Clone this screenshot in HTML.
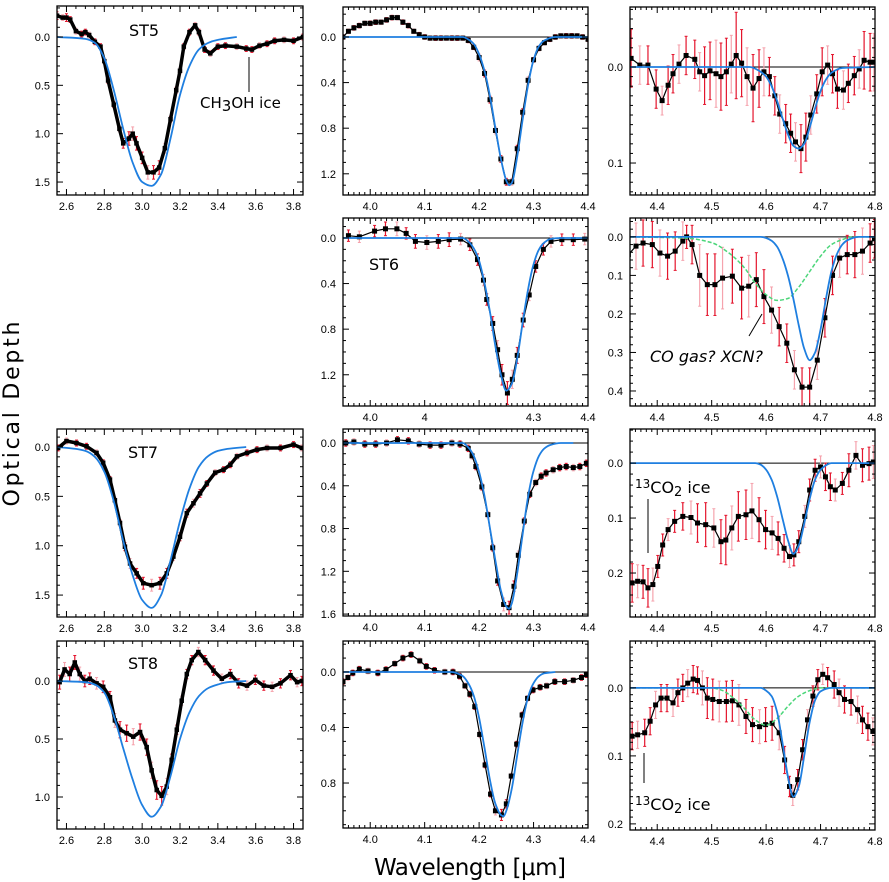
<!DOCTYPE html>
<html><head><meta charset="utf-8"><title>Optical depth spectra</title>
<style>
html,body{margin:0;padding:0;background:#fff;}
svg{display:block;}
text{font-family:"Liberation Sans",sans-serif;}
</style></head>
<body>
<svg id="fig" width="889" height="882" viewBox="0 0 889 882" xmlns="http://www.w3.org/2000/svg">
<rect x="0" y="0" width="889" height="882" fill="#fff"/>
<text x="13" y="414" transform="rotate(-90 13 414)" text-anchor="middle" dominant-baseline="middle" style="font-family:'DejaVu Sans',sans-serif;font-size:22px" textLength="185">Optical Depth</text>
<text x="470" y="875" text-anchor="middle" style="font-family:'DejaVu Sans',sans-serif;font-size:23px" textLength="192">Wavelength [μm]</text>
</svg>
<script>
// ===== Data arrays =====
// Panel A: ST5 3um
const aWave=[2.55,2.58,2.6,2.62,2.65,2.68,2.7,2.72,2.75,2.78,2.8,2.82,2.85,2.88,2.9,2.93,2.95,2.97,3.0,3.03,3.06,3.09,3.12,3.15,3.18,3.2,3.22,3.25,3.28,3.3,3.33,3.36,3.4,3.44,3.5,3.55,3.58,3.62,3.66,3.7,3.75,3.8,3.85];
const aTau=[-0.22,-0.2,-0.2,-0.18,-0.06,-0.03,-0.05,-0.02,0.05,0.1,0.25,0.45,0.7,0.95,1.1,1.05,1.0,1.1,1.25,1.4,1.4,1.35,1.15,0.85,0.55,0.35,0.1,-0.05,-0.12,-0.05,0.13,0.17,0.1,0.09,0.1,0.12,0.13,0.09,0.07,0.04,0.03,0.04,0.0];
const aErr=[0.04,0.03,0.04,0.03,0.03,0.03,0.03,0.03,0.03,0.03,0.03,0.03,0.03,0.03,0.05,0.07,0.07,0.07,0.06,0.07,0.07,0.07,0.05,0.03,0.03,0.03,0.03,0.03,0.03,0.03,0.03,0.03,0.03,0.03,0.03,0.03,0.03,0.03,0.03,0.03,0.03,0.03,0.03];
const aModWave=[2.55,2.7,2.75,2.8,2.85,2.9,2.95,3.0,3.05,3.1,3.15,3.2,3.25,3.3,3.35,3.4,3.5];
const aModTau=[0,0.02,0.06,0.22,0.55,0.95,1.3,1.5,1.54,1.42,1.05,0.6,0.3,0.13,0.06,0.03,0.0];
// Panel B: ST5 CO2
const bWave=[3.95,3.96,3.97,3.98,3.99,4.0,4.01,4.02,4.03,4.04,4.05,4.06,4.07,4.08,4.09,4.1,4.11,4.12,4.13,4.14,4.15,4.16,4.17,4.18,4.19,4.2,4.21,4.22,4.23,4.24,4.25,4.26,4.27,4.28,4.29,4.3,4.31,4.32,4.33,4.34,4.35,4.36,4.37,4.38,4.39,4.4];
const bTau=[0.0,-0.05,-0.08,-0.1,-0.12,-0.12,-0.13,-0.13,-0.15,-0.17,-0.17,-0.13,-0.1,-0.05,-0.02,0.0,0.01,0.01,0.01,0.01,0.01,0.01,0.01,0.03,0.09,0.18,0.32,0.55,0.82,1.07,1.27,1.27,0.98,0.66,0.38,0.2,0.1,0.05,0.02,0.0,-0.01,-0.01,-0.01,-0.01,0.0,0.02];
const bErr=[0.02,0.02,0.02,0.02,0.02,0.02,0.02,0.02,0.02,0.02,0.02,0.02,0.02,0.02,0.02,0.02,0.02,0.02,0.02,0.02,0.02,0.02,0.02,0.02,0.02,0.03,0.03,0.03,0.03,0.03,0.03,0.03,0.03,0.03,0.03,0.02,0.02,0.02,0.02,0.02,0.02,0.02,0.02,0.02,0.02,0.02];
const bModWave=[3.95,4.17,4.18,4.19,4.2,4.21,4.22,4.23,4.24,4.25,4.255,4.26,4.27,4.28,4.29,4.3,4.31,4.32,4.34,4.4];
const bModTau=[0,0,0.02,0.06,0.15,0.3,0.52,0.8,1.07,1.26,1.3,1.28,1.05,0.72,0.42,0.2,0.08,0.03,0.0,0.0];
// Panel C: ST5 CO
const cWave=[4.352,4.368,4.383,4.398,4.409,4.42,4.429,4.44,4.453,4.469,4.478,4.487,4.497,4.508,4.517,4.527,4.536,4.545,4.555,4.565,4.576,4.587,4.596,4.606,4.616,4.625,4.636,4.645,4.654,4.664,4.673,4.682,4.693,4.703,4.713,4.722,4.731,4.742,4.751,4.762,4.771,4.78,4.791,4.798];
const cTau=[-0.009,-0.002,-0.002,0.023,0.035,0.019,0.007,-0.003,-0.012,-0.008,0.005,0.009,0.004,0.007,0.01,0.005,-0.003,-0.012,-0.004,0.01,0.022,0.012,0.005,0.01,0.03,0.049,0.059,0.069,0.078,0.085,0.073,0.05,0.028,0.005,-0.002,0.007,0.023,0.024,0.017,0.009,0.002,-0.007,-0.005,-0.005];
const cErr=[0.03,0.02,0.02,0.02,0.015,0.02,0.02,0.02,0.02,0.02,0.02,0.03,0.03,0.035,0.035,0.035,0.03,0.045,0.035,0.03,0.035,0.03,0.025,0.02,0.02,0.02,0.02,0.02,0.02,0.025,0.025,0.02,0.02,0.025,0.02,0.02,0.02,0.02,0.02,0.02,0.02,0.03,0.03,0.03];
const cModWave=[4.35,4.57,4.59,4.6,4.61,4.62,4.63,4.64,4.65,4.66,4.67,4.68,4.69,4.7,4.71,4.72,4.74,4.8];
const cModTau=[0,0,0.005,0.01,0.02,0.035,0.053,0.07,0.082,0.085,0.08,0.063,0.043,0.025,0.013,0.006,0.001,0];
// Panel D: ST6 CO2
const dWave=[3.96,3.98,4.008,4.028,4.049,4.066,4.083,4.104,4.125,4.145,4.166,4.183,4.197,4.208,4.214,4.225,4.234,4.242,4.252,4.261,4.27,4.281,4.292,4.304,4.318,4.332,4.352,4.373,4.394];
const dTau=[-0.02,-0.01,-0.06,-0.08,-0.08,-0.04,0.03,0.04,0.03,0.015,0.01,0.06,0.19,0.37,0.54,0.75,0.98,1.2,1.36,1.24,1.03,0.72,0.5,0.25,0.1,0.03,0.015,0.015,0.01];
const dErr=[0.05,0.05,0.05,0.06,0.06,0.05,0.06,0.06,0.06,0.06,0.05,0.05,0.05,0.05,0.05,0.06,0.08,0.09,0.1,0.08,0.07,0.06,0.05,0.05,0.05,0.05,0.05,0.05,0.05];
const dModWave=[3.95,4.17,4.18,4.19,4.2,4.21,4.22,4.23,4.24,4.25,4.26,4.27,4.28,4.29,4.3,4.31,4.32,4.33,4.35,4.4];
const dModTau=[0,0,0.03,0.09,0.2,0.4,0.65,0.95,1.2,1.34,1.28,1.06,0.74,0.45,0.23,0.1,0.04,0.01,0,0];
// Panel E: ST6 CO
const eWave=[4.347,4.361,4.374,4.391,4.405,4.419,4.433,4.447,4.454,4.464,4.478,4.492,4.506,4.52,4.538,4.555,4.568,4.582,4.596,4.61,4.624,4.638,4.652,4.666,4.68,4.694,4.708,4.722,4.735,4.749,4.763,4.777,4.791,4.799];
const eTau=[0.046,0.024,0.016,0.02,0.042,0.05,0.037,0.011,0.0,0.02,0.1,0.124,0.124,0.107,0.102,0.133,0.128,0.111,0.155,0.19,0.233,0.276,0.345,0.39,0.39,0.32,0.21,0.1,0.055,0.046,0.046,0.037,0.016,0.005];
const eErr=[0.05,0.06,0.06,0.06,0.06,0.06,0.05,0.05,0.03,0.05,0.08,0.08,0.08,0.08,0.07,0.08,0.08,0.07,0.07,0.06,0.05,0.05,0.05,0.05,0.05,0.05,0.05,0.05,0.05,0.05,0.06,0.06,0.05,0.05];
const eModWave=[4.35,4.59,4.6,4.61,4.62,4.63,4.64,4.65,4.66,4.67,4.68,4.69,4.7,4.71,4.72,4.73,4.74,4.75,4.77,4.8];
const eModTau=[0,0,0.003,0.01,0.025,0.055,0.1,0.16,0.23,0.29,0.32,0.3,0.24,0.16,0.09,0.045,0.02,0.008,0,0];
const eGasWave=[4.35,4.45,4.5,4.53,4.56,4.58,4.6,4.62,4.64,4.66,4.68,4.7,4.72,4.74,4.76,4.8];
const eGasTau=[0,0.003,0.015,0.04,0.08,0.12,0.15,0.165,0.16,0.13,0.09,0.05,0.02,0.007,0,0];
// Panel F: ST7 3um
const fWave=[2.556,2.6,2.653,2.706,2.759,2.794,2.83,2.856,2.883,2.909,2.936,2.971,3.006,3.05,3.094,3.13,3.165,3.2,3.236,3.271,3.306,3.342,3.386,3.43,3.466,3.501,3.554,3.607,3.66,3.731,3.8,3.844];
const fTau=[0.01,-0.06,-0.04,-0.007,0.06,0.16,0.33,0.54,0.77,1.01,1.18,1.28,1.38,1.4,1.38,1.28,1.11,0.91,0.67,0.57,0.47,0.37,0.26,0.23,0.18,0.095,0.06,0.027,0.01,0.01,-0.024,0.01];
const fErr=[0.03,0.03,0.03,0.03,0.03,0.03,0.03,0.03,0.03,0.04,0.05,0.05,0.06,0.06,0.06,0.05,0.04,0.04,0.04,0.04,0.04,0.03,0.03,0.03,0.03,0.03,0.03,0.03,0.03,0.03,0.03,0.03];
const fModWave=[2.55,2.65,2.7,2.75,2.8,2.85,2.9,2.95,3.0,3.05,3.1,3.15,3.2,3.25,3.3,3.35,3.4,3.45,3.55];
const fModTau=[0,0.02,0.04,0.1,0.25,0.55,0.95,1.3,1.55,1.63,1.5,1.15,0.75,0.42,0.2,0.09,0.04,0.02,0];
// Panel G: ST7 CO2
const gWave=[3.955,3.97,3.99,4.01,4.03,4.05,4.07,4.09,4.11,4.13,4.15,4.165,4.18,4.187,4.194,4.205,4.216,4.225,4.234,4.245,4.255,4.264,4.272,4.283,4.293,4.304,4.314,4.323,4.336,4.348,4.36,4.373,4.385,4.397];
const gTau=[0.0,-0.01,0.01,0.01,0.0,-0.03,-0.02,0.01,0.02,0.02,0.0,0.01,0.05,0.12,0.22,0.41,0.67,0.98,1.29,1.51,1.54,1.34,1.05,0.73,0.48,0.37,0.31,0.28,0.25,0.23,0.22,0.23,0.22,0.19];
const gErr=[0.03,0.03,0.03,0.03,0.03,0.03,0.03,0.03,0.03,0.03,0.03,0.03,0.03,0.03,0.03,0.03,0.03,0.03,0.04,0.06,0.06,0.05,0.04,0.03,0.03,0.03,0.03,0.03,0.03,0.03,0.03,0.03,0.03,0.03];
const gModWave=[3.95,4.17,4.18,4.19,4.2,4.21,4.22,4.23,4.24,4.25,4.255,4.26,4.27,4.28,4.29,4.3,4.31,4.32,4.33,4.35,4.373];
const gModTau=[0,0,0.04,0.12,0.27,0.5,0.8,1.1,1.38,1.53,1.55,1.5,1.22,0.85,0.5,0.26,0.12,0.05,0.02,0,0];
// Panel H: ST7 CO
const hWave=[4.354,4.364,4.374,4.383,4.392,4.401,4.41,4.42,4.432,4.447,4.462,4.474,4.489,4.504,4.517,4.526,4.537,4.549,4.563,4.574,4.587,4.599,4.611,4.622,4.633,4.643,4.651,4.66,4.671,4.68,4.69,4.7,4.709,4.718,4.727,4.74,4.752,4.765,4.777,4.789,4.797];
const hTau=[0.218,0.215,0.216,0.227,0.221,0.188,0.149,0.121,0.106,0.097,0.099,0.109,0.112,0.118,0.143,0.14,0.118,0.097,0.094,0.087,0.103,0.121,0.127,0.137,0.155,0.17,0.167,0.143,0.097,0.049,0.013,0.007,0.025,0.043,0.049,0.037,0.013,-0.014,0.004,0.001,-0.002];
const hErr=[0.035,0.03,0.03,0.035,0.03,0.02,0.02,0.02,0.02,0.025,0.03,0.035,0.04,0.035,0.04,0.045,0.04,0.045,0.045,0.05,0.04,0.035,0.03,0.03,0.025,0.02,0.02,0.02,0.02,0.02,0.02,0.02,0.025,0.025,0.02,0.02,0.03,0.025,0.03,0.03,0.03];
const hModWave=[4.35,4.58,4.59,4.6,4.61,4.62,4.63,4.64,4.65,4.66,4.67,4.68,4.69,4.7,4.71,4.72,4.8];
const hModTau=[0,0,0.003,0.012,0.03,0.06,0.1,0.14,0.165,0.15,0.11,0.065,0.03,0.012,0.004,0,0];
// Panel I: ST8 3um
const iWave=[2.564,2.59,2.617,2.644,2.67,2.697,2.723,2.759,2.794,2.83,2.856,2.883,2.918,2.953,2.989,3.024,3.05,3.077,3.103,3.13,3.156,3.183,3.209,3.236,3.262,3.297,3.333,3.377,3.421,3.466,3.51,3.554,3.598,3.643,3.687,3.731,3.784,3.819,3.844];
const iTau=[0.01,-0.1,-0.06,-0.16,-0.06,0.0,-0.02,0.02,0.05,0.14,0.34,0.42,0.45,0.48,0.44,0.57,0.77,0.94,0.99,0.91,0.68,0.42,0.17,-0.06,-0.18,-0.25,-0.18,-0.09,-0.02,-0.06,0.02,0.04,-0.01,0.04,0.05,0.02,-0.05,0.01,0.0];
const iErr=[0.06,0.06,0.06,0.06,0.06,0.05,0.05,0.05,0.05,0.05,0.06,0.07,0.07,0.07,0.07,0.07,0.07,0.08,0.08,0.07,0.05,0.04,0.04,0.04,0.04,0.04,0.04,0.04,0.04,0.04,0.04,0.04,0.04,0.04,0.04,0.04,0.04,0.04,0.04];
const iModWave=[2.55,2.7,2.75,2.8,2.85,2.9,2.95,3.0,3.05,3.1,3.15,3.2,3.25,3.3,3.35,3.4,3.45,3.55];
const iModTau=[0,0.01,0.03,0.1,0.3,0.58,0.85,1.07,1.17,1.08,0.82,0.5,0.27,0.13,0.06,0.03,0.01,0];
// Panel J: ST8 CO2
const jWave=[3.95,3.959,3.968,3.98,3.996,4.014,4.029,4.045,4.06,4.075,4.091,4.103,4.118,4.137,4.152,4.164,4.174,4.183,4.192,4.201,4.211,4.221,4.23,4.241,4.25,4.259,4.269,4.279,4.289,4.299,4.312,4.324,4.339,4.357,4.373,4.388,4.397];
const jTau=[0.07,0.04,0.007,-0.02,-0.007,0.007,-0.017,-0.06,-0.1,-0.125,-0.08,-0.04,-0.012,0.0,0.0,0.03,0.1,0.16,0.25,0.45,0.67,0.88,1.0,1.03,0.95,0.75,0.52,0.31,0.19,0.13,0.11,0.1,0.07,0.07,0.06,0.04,0.02];
const jErr=[0.02,0.02,0.02,0.02,0.02,0.02,0.02,0.02,0.02,0.02,0.02,0.02,0.02,0.02,0.02,0.02,0.02,0.02,0.02,0.02,0.02,0.02,0.03,0.04,0.03,0.02,0.02,0.02,0.02,0.02,0.02,0.02,0.02,0.02,0.02,0.02,0.02];
const jModWave=[3.95,4.15,4.16,4.17,4.18,4.19,4.2,4.21,4.22,4.23,4.24,4.245,4.25,4.26,4.27,4.28,4.29,4.3,4.31,4.32,4.34];
const jModTau=[0,0,0.01,0.03,0.08,0.17,0.33,0.55,0.78,0.95,1.03,1.04,1.0,0.84,0.6,0.36,0.18,0.08,0.03,0.01,0];
// Panel K: ST8 CO
const kWave=[4.354,4.364,4.377,4.387,4.397,4.407,4.418,4.429,4.438,4.447,4.456,4.466,4.474,4.483,4.492,4.502,4.514,4.527,4.538,4.55,4.563,4.575,4.588,4.599,4.611,4.624,4.634,4.643,4.649,4.658,4.667,4.676,4.686,4.695,4.704,4.713,4.725,4.734,4.744,4.756,4.768,4.777,4.787,4.796];
const kTau=[0.071,0.069,0.066,0.049,0.025,0.015,0.015,0.022,0.007,0.0,-0.007,-0.013,-0.011,0.0,0.015,0.017,0.02,0.02,0.019,0.025,0.042,0.054,0.057,0.054,0.052,0.066,0.106,0.145,0.158,0.135,0.091,0.047,0.012,-0.012,-0.02,-0.015,-0.005,0.007,0.017,0.02,0.032,0.047,0.057,0.064];
const kErr=[0.02,0.02,0.02,0.02,0.02,0.02,0.02,0.02,0.02,0.02,0.02,0.02,0.02,0.025,0.03,0.03,0.03,0.03,0.03,0.03,0.025,0.025,0.025,0.025,0.025,0.025,0.02,0.015,0.015,0.015,0.015,0.015,0.015,0.015,0.015,0.015,0.02,0.02,0.02,0.02,0.02,0.02,0.02,0.02];
const kModWave=[4.35,4.59,4.6,4.61,4.62,4.63,4.64,4.65,4.66,4.67,4.68,4.69,4.7,4.72,4.8];
const kModTau=[0,0,0.004,0.012,0.035,0.08,0.13,0.16,0.145,0.1,0.05,0.018,0.005,0,0];
const kGasWave=[4.35,4.5,4.52,4.54,4.56,4.58,4.6,4.62,4.64,4.66,4.68,4.7,4.8];
const kGasTau=[0,0,0.004,0.015,0.03,0.047,0.055,0.045,0.027,0.012,0.004,0,0];

// Tick labels
const xTicksC1=[2.6,2.8,3.0,3.2,3.4,3.6,3.8];
const xTicksC2=[4.0,4.1,4.2,4.3,4.4];
const xTicksC3=[4.4,4.5,4.6,4.7,4.8];
const xTicksRow2C2=[4.0,4.1,4.3,4.4];
const xLabelsRow2C2=["4.0","4","4.3","4.4"];
const yTicks3um=[0,0.5,1.0,1.5];
const yTicks3umST8=[0,0.5,1.0];
const yTicksCO2=[0,0.4,0.8,1.2];
const yTicksCO2ST7=[0,0.4,0.8,1.2,1.6];
const yTicksCO2ST8=[0,0.4,0.8];
const yTicksCOst5=[0,0.1];
const yTicksCOst6=[0,0.1,0.2,0.3,0.4];
const yTicksCOst78=[0,0.1,0.2];

// ===== Layout (not data) =====
const C1={x:57,w:246,xmin:2.55,xmax:3.85,xminor:0.05,xlab:xTicksC1};
const C2={x:343,w:245,xmin:3.95,xmax:4.4,xminor:0.01,xlab:xTicksC2};
const C3={x:630,w:245,xmin:4.35,xmax:4.8,xminor:0.01,xlab:xTicksC3};
const panels=[
 {name:'st5-h2o-panel',col:C1,top:6,bot:195,ymin:-0.32,ymax:1.634,yt:yTicks3um,ym:0.1,w:aWave,t:aTau,e:aErr,mw:aModWave,mt:aModTau,thick:true,zero:false},
 {name:'st5-co2-panel',col:C2,top:7,bot:195,ymin:-0.263,ymax:1.386,yt:yTicksCO2,ym:0.1,w:bWave,t:bTau,e:bErr,mw:bModWave,mt:bModTau,zero:true},
 {name:'st5-co-panel',col:C3,top:7,bot:195,ymin:-0.0625,ymax:0.1333,yt:yTicksCOst5,ym:0.01,w:cWave,t:cTau,e:cErr,mw:cModWave,mt:cModTau,zero:true},
 {name:'st6-co2-panel',col:C2,top:218,bot:406,ymin:-0.175,ymax:1.474,yt:yTicksCO2,ym:0.1,w:dWave,t:dTau,e:dErr,mw:dModWave,mt:dModTau,zero:true,xt:xTicksRow2C2,xl:xLabelsRow2C2},
 {name:'st6-co-panel',col:C3,top:218,bot:406,ymin:-0.049,ymax:0.439,yt:yTicksCOst6,ym:0.02,w:eWave,t:eTau,e:eErr,mw:eModWave,mt:eModTau,gw:eGasWave,gt:eGasTau,zero:true},
 {name:'st7-h2o-panel',col:C1,top:429,bot:617,ymin:-0.182,ymax:1.722,yt:yTicks3um,ym:0.1,w:fWave,t:fTau,e:fErr,mw:fModWave,mt:fModTau,thick:true,zero:false},
 {name:'st7-co2-panel',col:C2,top:429,bot:616,ymin:-0.131,ymax:1.618,yt:yTicksCO2ST7,ym:0.1,w:gWave,t:gTau,e:gErr,mw:gModWave,mt:gModTau,zero:true},
 {name:'st7-co-panel',col:C3,top:429,bot:617,ymin:-0.062,ymax:0.28,yt:yTicksCOst78,ym:0.02,w:hWave,t:hTau,e:hErr,mw:hModWave,mt:hModTau,zero:true},
 {name:'st8-h2o-panel',col:C1,top:641,bot:829,ymin:-0.345,ymax:1.276,yt:yTicks3umST8,ym:0.1,w:iWave,t:iTau,e:iErr,mw:iModWave,mt:iModTau,thick:true,zero:false},
 {name:'st8-co2-panel',col:C2,top:641,bot:828,ymin:-0.223,ymax:1.124,yt:yTicksCO2ST8,ym:0.1,w:jWave,t:jTau,e:jErr,mw:jModWave,mt:jModTau,zero:true},
 {name:'st8-co-panel',col:C3,top:641,bot:830,ymin:-0.069,ymax:0.209,yt:yTicksCOst78,ym:0.01,w:kWave,t:kTau,e:kErr,mw:kModWave,mt:kModTau,gw:kGasWave,gt:kGasTau,zero:true}
];

const NS='http://www.w3.org/2000/svg';
const svg=document.getElementById('fig');
function mk(tag,attrs,parent){const el=document.createElementNS(NS,tag);for(const k in attrs)el.setAttribute(k,attrs[k]);(parent||svg).appendChild(el);return el;}
// monotone cubic (Fritsch-Carlson) path: no overshoot
function smoothPath(pts){
  const n=pts.length;
  if(n<2)return '';
  const dx=[],dy=[],m=[];
  for(let i=0;i<n-1;i++){dx.push(pts[i+1][0]-pts[i][0]);dy.push(pts[i+1][1]-pts[i][1]);m.push(dy[i]/dx[i]);}
  const t=new Array(n);
  t[0]=m[0];t[n-1]=m[n-2];
  for(let i=1;i<n-1;i++){
    if(m[i-1]*m[i]<=0)t[i]=0;
    else{const w1=2*dx[i]+dx[i-1],w2=dx[i]+2*dx[i-1];t[i]=(w1+w2)/(w1/m[i-1]+w2/m[i]);}
  }
  let d='M'+pts[0][0].toFixed(1)+','+pts[0][1].toFixed(1);
  for(let i=0;i<n-1;i++){
    const h=dx[i]/3;
    d+=' C'+(pts[i][0]+h).toFixed(1)+','+(pts[i][1]+t[i]*h).toFixed(1)+' '+(pts[i+1][0]-h).toFixed(1)+','+(pts[i+1][1]-t[i+1]*h).toFixed(1)+' '+pts[i+1][0].toFixed(1)+','+pts[i+1][1].toFixed(1);
  }
  return d;
}

panels.forEach(p=>{
  const c=p.col;
  const g=mk('g',{});
  
  
  const X=v=>c.x+(v-c.xmin)/(c.xmax-c.xmin)*c.w;
  const Y=v=>p.top+(v-p.ymin)/(p.ymax-p.ymin)*(p.bot-p.top);
  const clipId='clip-'+p.name;
  const cp=mk('clipPath',{id:clipId},g);
  mk('rect',{x:c.x,y:p.top,width:c.w,height:p.bot-p.top},cp);
  const plot=mk('g',{'clip-path':'url(#'+clipId+')'},g);
  if(p.zero){
    const zl=mk('line',{x1:c.x,x2:c.x+c.w,y1:Y(0),y2:Y(0),stroke:'#000','stroke-width':1},plot);
    
    
  }
  const eg=mk('g',{},plot);
  
  
  for(let i=0;i<p.w.length;i++){
    const x=X(p.w[i]),y1=Y(p.t[i]-p.e[i]),y2=Y(p.t[i]+p.e[i]);
    const col=(i%3===1)?'#f5a3ad':'#e4142c';
    mk('line',{x1:x,x2:x,y1:y1,y2:y2,stroke:col,'stroke-width':1.2},eg);
    mk('line',{x1:x-1.5,x2:x+1.5,y1:y1,y2:y1,stroke:col,'stroke-width':1},eg);
    mk('line',{x1:x-1.5,x2:x+1.5,y1:y2,y2:y2,stroke:col,'stroke-width':1},eg);
  }
  const pts=p.w.map((w,i)=>[X(w),Y(p.t[i])]);
  const dl=mk('path',{d:'M'+pts.map(q=>q[0].toFixed(1)+','+q[1].toFixed(1)).join(' L'),fill:'none',stroke:'#000','stroke-width':p.thick?3.5:1.2,'stroke-linejoin':'round'},plot);
  
  
  const ms=p.thick?4.5:5;
  pts.forEach(q=>{
    const m=mk('rect',{x:q[0]-ms/2,y:q[1]-ms/2,width:ms,height:ms,fill:'#000'},plot);
    
    
  });
  if(p.gw){
    const gp=p.gw.map((w,i)=>[X(w),Y(p.gt[i])]);
    const gl=mk('path',{d:smoothPath(gp),fill:'none',stroke:'#4cd67a','stroke-width':1.5,'stroke-dasharray':'4,2'},plot);
    
    
  }
  const mp=p.mw.map((w,i)=>[X(w),Y(p.mt[i])]);
  const ml=mk('path',{d:smoothPath(mp),fill:'none',stroke:'#1f7fe0','stroke-width':1.8},plot);
  
  
  mk('rect',{x:c.x,y:p.top,width:c.w,height:p.bot-p.top,fill:'none',stroke:'#000','stroke-width':1.3},g);
  const tg=mk('g',{stroke:'#000','stroke-width':1},g);
  const startX=Math.ceil(c.xmin/c.xminor-1e-6)*c.xminor;
  for(let v=startX;v<=c.xmax+1e-6;v+=c.xminor){
    const x=X(v);
    const major=Math.abs(v*10-Math.round(v*10))<1e-6 && (c===C1?Math.round(v*10)%2===0:true);
    const L=major?6:3;
    mk('line',{x1:x,x2:x,y1:p.bot,y2:p.bot-L},tg);
    mk('line',{x1:x,x2:x,y1:p.top,y2:p.top+L},tg);
  }
  const startY=Math.ceil(p.ymin/p.ym-1e-6)*p.ym;
  for(let v=startY;v<=p.ymax+1e-6;v+=p.ym){
    const y=Y(v);
    const major=p.yt.some(t=>Math.abs(t-v)<1e-6);
    const L=major?6:3;
    mk('line',{x1:c.x,x2:c.x+L,y1:y,y2:y},tg);
    mk('line',{x1:c.x+c.w,x2:c.x+c.w-L,y1:y,y2:y},tg);
  }
  p.yt.forEach(v=>{
    const t=mk('text',{x:c.x-7,y:Y(v)+4,'text-anchor':'end','font-size':11},g);
    t.textContent=v.toFixed(1);
    
    
  });
  const xt=p.xt||c.xlab;
  xt.forEach((v,i)=>{
    const t=mk('text',{x:X(v),y:p.bot+15,'text-anchor':'middle','font-size':11},g);
    t.textContent=p.xl?p.xl[i]:v.toFixed(1);
    
    
  });
});

function label(txt,x,y,size,name,extra){
  const t=mk('text',Object.assign({x:x,y:y,'font-size':size,style:"font-family:'DejaVu Sans',sans-serif"},extra||{}));
  t.textContent=txt;
  
  
  return t;
}
label('ST5',144,36,16,'source-label-st5',{'text-anchor':'middle'});
label('ST6',384,270,16,'source-label-st6',{'text-anchor':'middle'});
label('ST7',143,458,16,'source-label-st7',{'text-anchor':'middle'});
label('ST8',143,669,16,'source-label-st8',{'text-anchor':'middle'});
mk('line',{x1:249,x2:249,y1:57,y2:92,stroke:'#000','stroke-width':1});
const ch=mk('text',{x:200,y:108,'font-size':15,style:"font-family:'DejaVu Sans',sans-serif"});


ch.innerHTML='CH<tspan dy="3">3</tspan><tspan dy="-3">OH ice</tspan>';
label('CO gas? XCN?',650,362,16,'co-gas-annotation',{'font-style':'italic'});
mk('line',{x1:749,x2:762,y1:336,y2:314,stroke:'#000','stroke-width':1});
function co13(x,y,name){
  const t=mk('text',{x:x,y:y,'font-size':16,style:"font-family:'DejaVu Sans',sans-serif"});
  
  
  t.innerHTML='<tspan font-size="12" dy="-5">13</tspan><tspan dy="5">CO</tspan><tspan font-size="13" dy="3">2</tspan><tspan dy="-3"> ice</tspan>';
}
co13(635,493,'13co2-annotation-st7');
mk('line',{x1:648,x2:648,y1:499,y2:553,stroke:'#000','stroke-width':1});
co13(635,810,'13co2-annotation-st8');
mk('line',{x1:644,x2:644,y1:753,y2:783,stroke:'#000','stroke-width':1});
</script>
</body></html>
